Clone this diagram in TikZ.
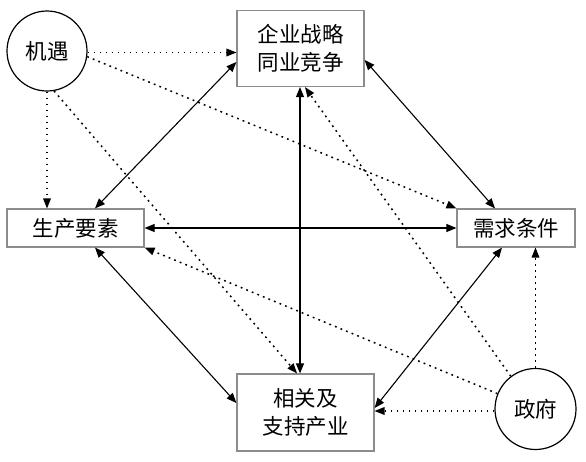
\documentclass[tikz,border=0pt]{standalone}
\usepackage{fontspec}
\newfontfamily\cjk{Noto Sans CJK SC}
\usetikzlibrary{arrows.meta,calc}
\begin{document}
\begin{tikzpicture}[x=1pt,y=-1pt,
  txt/.style={font=\cjk\fontsize{21.5}{28}\selectfont, align=center, inner sep=0pt},
  boxnode/.style={txt, draw=black!45, line width=1.2pt, fill=white},
  circnode/.style={txt, draw=black, line width=1.2pt, circle},
  solidarrow/.style={line width=1.1pt, {Triangle[length=10pt,width=8pt]}-{Triangle[length=10pt,width=8pt]}},
  dotarrow/.style={line width=1.5pt, dash pattern=on 1.8pt off 4.2pt, -{Triangle[length=10pt,width=8pt,line width=0pt]}}
]
\useasboundingbox (0,0) rectangle (586,461);
\node[boxnode, minimum width=127pt, minimum height=76pt] (top) at (300.5,48.5) {企业战略\\同业竞争};
\node[boxnode, minimum width=137pt, minimum height=38pt] (lf) at (75.5,228) {生产要素};
\node[boxnode, minimum width=118pt, minimum height=38pt] (rt) at (516,228) {需求条件};
\node[boxnode, minimum width=137pt, minimum height=77pt] (bt) at (305.5,412.5) {相关及\\支持产业};
\node[circnode, minimum size=80pt] (jy) at (47,51) {机遇};
\node[circnode, minimum size=81pt] (zy) at (535.5,409) {政府};
% solid double arrows
\draw[solidarrow] ($(lf.north)+(19.5,0)$) -- ($(top.west)+(0,13.5)$);
\draw[solidarrow] ($(top.east)+(0,11.5)$) -- ($(rt.north)+(-21,0)$);
\draw[solidarrow] ($(top.south)+(-0.5,0)$) -- ($(bt.north)+(-5.5,0)$);
\draw[solidarrow] (lf.east) -- (rt.west);
\draw[solidarrow] ($(lf.south)+(19.5,0)$) -- ($(bt.west)+(0,-9.5)$);
\draw[solidarrow] ($(rt.south)+(-14,0)$) -- ($(bt.east)+(0,-4.5)$);
% dotted arrows from 机遇
\draw[dotarrow] ($(jy.east)+(0,1.5)$) -- ($(top.west)+(0,4)$);
\draw[dotarrow] (jy.-8) -- (rt.north west);
\draw[dotarrow] (jy.south) -- ($(lf.north)+(-28.5,0)$);
\draw[dotarrow] (jy.-80) -- ($(bt.north)+(-8.5,0)$);
% dotted arrows from 政府
\draw[dotarrow] ($(zy.west)+(0,2)$) -- ($(bt.east)+(0,-1.5)$);
\draw[dotarrow] (zy.158) -- (lf.south east);
\draw[dotarrow] (zy.north) -- ($(rt.south)+(19.5,0)$);
\draw[dotarrow] (zy.127) -- ($(top.south)+(4.5,0)$);
\end{tikzpicture}
\end{document}
